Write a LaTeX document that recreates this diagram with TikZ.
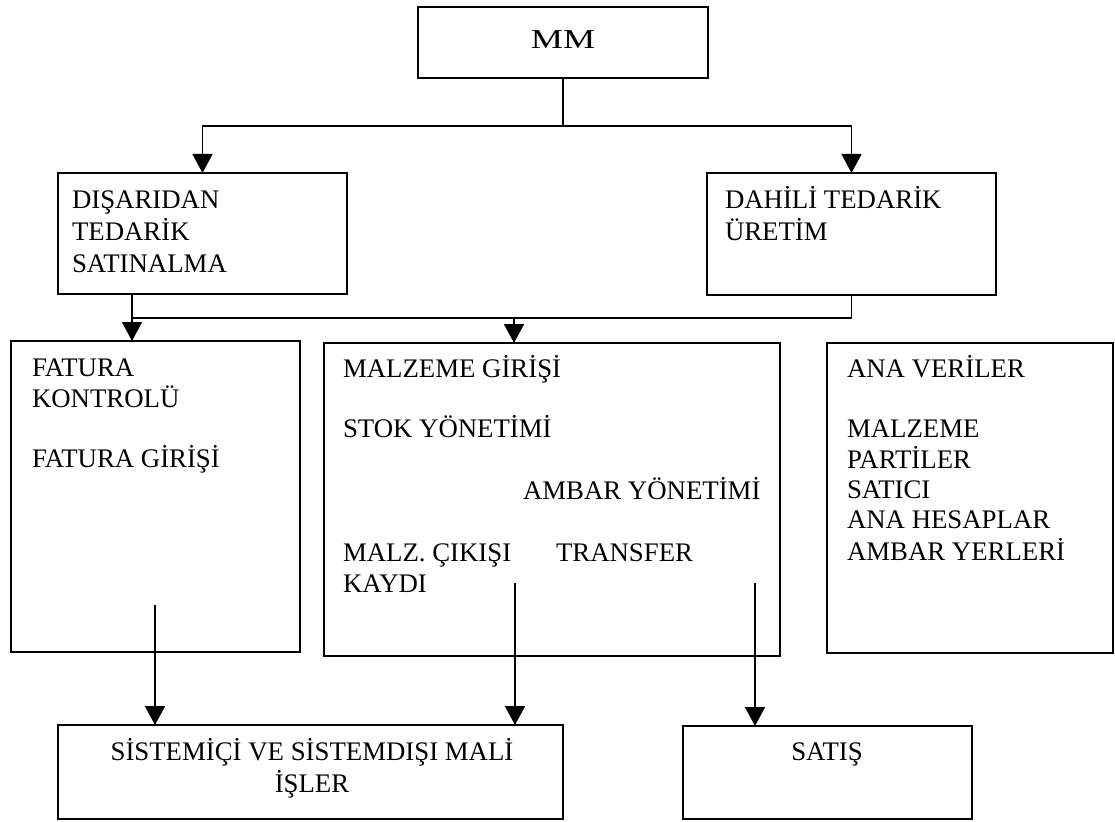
\documentclass[tikz,border=0pt]{standalone}
\usepackage{fontspec}
\setmainfont{Liberation Serif}
\usetikzlibrary{arrows.meta}

\tikzset{
  box/.style={draw, line width=1.6pt, rectangle, inner sep=0pt, outer sep=0pt},
  txt/.style={anchor=base west, inner sep=0pt, outer sep=0pt, font=\fontsize{26.8}{31}\selectfont},
  ctxt/.style={anchor=base, inner sep=0pt, outer sep=0pt, font=\fontsize{26.8}{31}\selectfont},
  link/.style={line width=1.6pt},
  arrowlink/.style={line width=1.6pt, -{Triangle[width=20pt,length=19pt]}},
}

\begin{document}
\begin{tikzpicture}[x=1pt, y=-1pt]
  \useasboundingbox (0,0) rectangle (1115,821);

  % boxes
  \node[box, minimum width=290pt, minimum height=71pt]  (mm)  at (563,42.5)   {};
  \node[box, minimum width=289pt, minimum height=121pt] (dis) at (202.5,233.5) {};
  \node[box, minimum width=289pt, minimum height=122pt] (dah) at (851.5,234)   {};
  \node[box, minimum width=289pt, minimum height=311pt] (fat) at (155.5,496.5) {};
  \node[box, minimum width=456pt, minimum height=313pt] (mal) at (552,499.5)   {};
  \node[box, minimum width=286pt, minimum height=310pt] (ana) at (970,498)     {};
  \node[box, minimum width=505pt, minimum height=94pt]  (sis) at (310.5,772)   {};
  \node[box, minimum width=289pt, minimum height=93pt]  (sat) at (827.5,772.5) {};

  % texts
  \node[ctxt] (tmm) at (563,49) {\scalebox{1.35}[1.02]{MM}};

  \node[txt] (td1) at (72,208) {DIŞARIDAN};
  \node[txt] (td2) at (72,240) {TEDARİK};
  \node[txt] (td3) at (72,272) {SATINALMA};

  \node[txt] (th1) at (725,208) {DAHİLİ TEDARİK};
  \node[txt] (th2) at (725,240) {ÜRETİM};

  \node[txt] (tf1) at (32,376) {FATURA};
  \node[txt] (tf2) at (32,407) {KONTROLÜ};
  \node[txt] (tf3) at (32,467) {FATURA GİRİŞİ};

  \node[txt] (tm1) at (343,377) {MALZEME GİRİŞİ};
  \node[txt] (tm2) at (343,437) {STOK YÖNETİMİ};
  \node[txt] (tm3) at (523,499) {AMBAR YÖNETİMİ};
  \node[txt] (tm4) at (343,561) {MALZ. ÇIKIŞI};
  \node[txt] (tm5) at (556,561) {TRANSFER};
  \node[txt] (tm6) at (343,592) {KAYDI};

  \node[txt] (ta1) at (847,377) {ANA VERİLER};
  \node[txt] (ta2) at (847,437) {MALZEME};
  \node[txt] (ta3) at (847,468) {PARTİLER};
  \node[txt] (ta4) at (847,498) {SATICI};
  \node[txt] (ta5) at (847,528) {ANA HESAPLAR};
  \node[txt] (ta6) at (847,560) {AMBAR YERLERİ};

  \node[ctxt] (ts1) at (312,760) {SİSTEMİÇİ VE SİSTEMDIŞI MALİ};
  \node[ctxt] (ts2) at (312,792) {İŞLER};

  \node[ctxt] (tsat) at (827,760) {SATIŞ};

  % junction points
  \coordinate (hub)   at (563,126);
  \coordinate (split) at (132,318);
  \coordinate (mid)   at (514,318);
  \coordinate (fo)    at (155,605);
  \coordinate (mo)    at (515,583);
  \coordinate (so)    at (755,583);

  % connectors
  \draw[link] (mm.south) -- (hub);
  \draw[arrowlink] (hub) -| (dis.north);
  \draw[arrowlink] (hub) -| (dah.north);

  \draw[link] (dah.south) |- (split);
  \draw[arrowlink] (dis.south -| split) -- (fat.north -| split);
  \draw[arrowlink] (mid) -- (mal.north -| mid);

  \draw[arrowlink] (fo) -- (sis.north -| fo);
  \draw[arrowlink] (mo) -- (sis.north -| mo);
  \draw[arrowlink] (so) -- (sat.north -| so);
\end{tikzpicture}
\end{document}
